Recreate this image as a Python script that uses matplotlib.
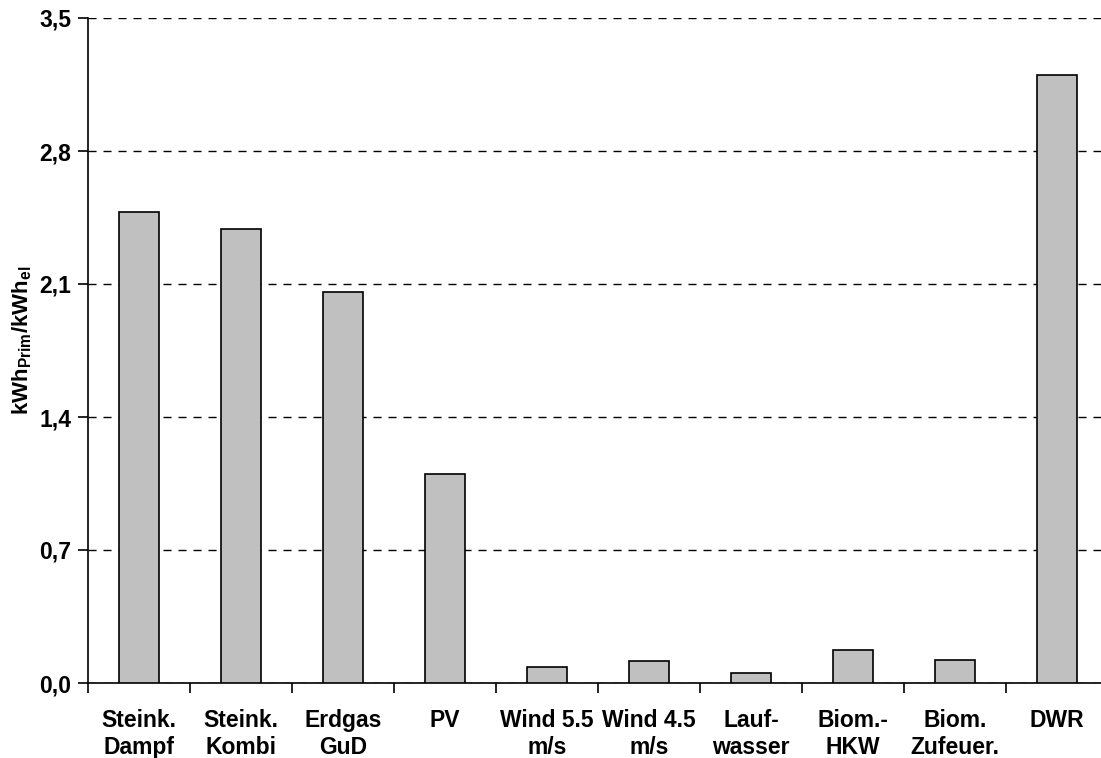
import numpy as np
from matplotlib import pyplot as plt
from matplotlib.ticker import FixedLocator, FuncFormatter

# primary energy demand per kWh of electricity
labels = ["Steink.\nDampf", "Steink.\nKombi", "Erdgas\nGuD", "PV",
          "Wind 5.5\nm/s", "Wind 4.5\nm/s", "Lauf-\nwasser", "Biom.-\nHKW",
          "Biom.\nZufeuer.", "DWR"]
values = [2.48, 2.39, 2.06, 1.10, 0.083, 0.115, 0.053, 0.173, 0.12, 3.20]
yticks = [0.0, 0.7, 1.4, 2.1, 2.8, 3.5]

plt.rcParams['font.family'] = 'Liberation Sans'
plt.rcParams['font.weight'] = 'bold'
plt.rcParams['mathtext.fontset'] = 'custom'
plt.rcParams['mathtext.bf'] = 'Liberation Sans:bold'
plt.rcParams['mathtext.rm'] = 'Liberation Sans:bold'
plt.rcParams['mathtext.default'] = 'bf'

W, H = 1101, 758
fig = plt.figure(figsize=(W / 100, H / 100), dpi=100)
ax = fig.add_axes([88 / W, (H - 683) / H, 1020 / W, 665 / H])

x = np.arange(len(values))
ax.bar(x, values, width=0.4, color='#c0c0c0', edgecolor='black', linewidth=1.2, zorder=3)

ax.set_xlim(-0.5, len(values) - 0.5)
ax.set_ylim(0, 3.5)
ax.yaxis.set_major_locator(FixedLocator(yticks))
ax.yaxis.set_major_formatter(FuncFormatter(lambda v, p: f"{v:.1f}".replace('.', ',')))
ax.grid(axis='y', color='black', linewidth=1.0, linestyle=(0, (5.8, 5.0)), zorder=1)

ax.set_xticks(x)
ax.set_xticklabels(labels, fontsize=16.5, fontweight='bold', linespacing=1.2)
ax.xaxis.set_minor_locator(FixedLocator(np.arange(len(values) + 1) - 0.5))
ax.tick_params(axis='x', which='major', length=0, pad=19)
ax.tick_params(axis='x', which='minor', length=7, width=1.2, direction='out')
ax.tick_params(axis='y', length=7, width=1.2, labelsize=16.5, pad=5)

for side in ['top', 'right']:
    ax.spines[side].set_visible(False)
for side in ['left', 'bottom']:
    ax.spines[side].set_linewidth(1.2)

ax.set_ylabel(r'kWh$_{Prim}$/kWh$_{el}$', fontsize=16, fontweight='bold')
ax.yaxis.set_label_coords(-54 / 1020, 0.515)

fig.savefig('out.png', dpi=100)
